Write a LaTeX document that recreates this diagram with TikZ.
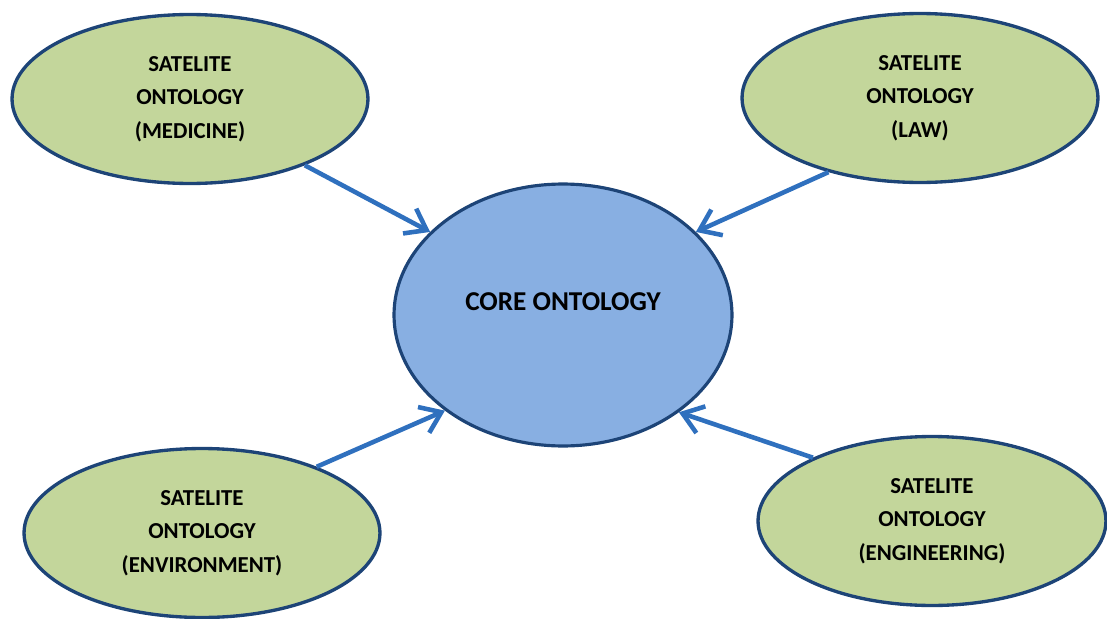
\documentclass[tikz,border=0pt]{standalone}
\usepackage{fontspec}
\setmainfont{Carlito}
\usetikzlibrary{shapes.geometric, arrows.meta}
\definecolor{satfill}{HTML}{C3D69B}
\definecolor{corefill}{HTML}{88AFE2}
\definecolor{rim}{HTML}{1D4477}
\definecolor{link}{HTML}{2F70BE}

\begin{document}
\begin{tikzpicture}[x=0.02cm, y=-0.02cm, font=\bfseries\fontsize{13}{19}\selectfont,
    satellite/.style={ellipse, draw=rim, fill=satfill, line width=1.9pt, inner sep=0pt,
        minimum width=7.12cm, minimum height=3.38cm, align=center},
    core/.style={ellipse, draw=rim, fill=corefill, line width=1.8pt, inner sep=0pt,
        minimum width=6.76cm, minimum height=5.24cm, font=\bfseries\fontsize{15.5}{18}\selectfont},
    feeds/.style={draw=link, line width=2.6pt, -{Straight Barb[length=11pt, width=16pt]}}]
    \useasboundingbox (0, 0) rectangle (1107, 619);

    \node (core) [core] at (563, 315) {\raisebox{0.52cm}{CORE ONTOLOGY}};

    \node (medicine) [satellite] at (190, 99) {SATELITE\\ONTOLOGY\\(MEDICINE)};
    \node (law) [satellite] at (920, 98) {SATELITE\\ONTOLOGY\\(LAW)};
    \node (environment) [satellite] at (202, 533) {SATELITE\\ONTOLOGY\\(ENVIRONMENT)};
    \node (engineering) [satellite, minimum width=6.96cm] at (932, 521) {SATELITE\\ONTOLOGY\\(ENGINEERING)};

    \draw[feeds] (medicine.330) -- (core.148);
    \draw[feeds] (law.219) -- (core.32);
    \draw[feeds] (environment.30) -- (core.219);
    \draw[feeds] (engineering.152) -- (core.320);
\end{tikzpicture}
\end{document}
